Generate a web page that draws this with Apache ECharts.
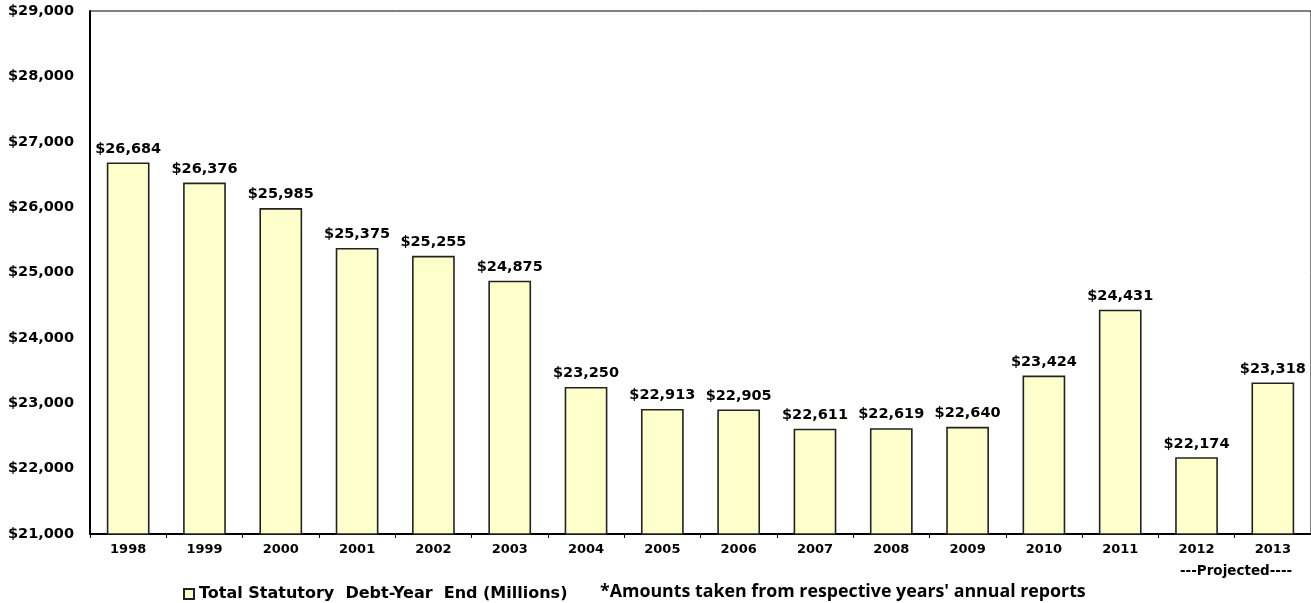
<!DOCTYPE html>
<html>
<head>
<meta charset="utf-8">
<script src="https://cdn.jsdelivr.net/npm/echarts@6/dist/echarts.min.js"></script>
<style>
  html, body { margin: 0; padding: 0; background: #fff; }
  #chart { width: 1311px; height: 603px; }
</style>
</head>
<body>
<div id="chart"></div>
<script>
// Fiscal years shown on the category axis
const years = ['1998', '1999', '2000', '2001', '2002', '2003', '2004', '2005',
               '2006', '2007', '2008', '2009', '2010', '2011', '2012', '2013'];
// Total statutory debt at year end, in millions of dollars
const debt = [26684, 26376, 25985, 25375, 25255, 24875, 23250, 22913,
              22905, 22611, 22619, 22640, 23424, 24431, 22174, 23318];
// Value axis range and step
const yMin = 21000;
const yMax = 29000;
const yStep = 1000;

const seriesName = 'Total Statutory  Debt-Year  End (Millions)';
const footNote = "*Amounts taken from respective years' annual reports";
const projectedNote = '---Projected----';

const boldFont = 'DejaVu Sans';
const money = v => '$' + Number(v).toLocaleString('en-US');

const chart = echarts.init(document.getElementById('chart'));
chart.setOption({
  animation: false,
  backgroundColor: '#ffffff',
  grid: {
    left: 90, top: 11, width: 1224, height: 523,
    show: true, borderColor: '#000', borderWidth: 1, backgroundColor: 'transparent'
  },
  legend: {
    data: [seriesName],
    left: 178, top: 581,
    itemWidth: 10, itemHeight: 10, itemGap: 6,
    icon: 'rect',
    textStyle: { fontFamily: boldFont, fontWeight: 'bold', fontSize: 16, color: '#000' }
  },
  xAxis: {
    type: 'category',
    data: years,
    axisLine: { lineStyle: { color: '#000', width: 2 } },
    axisTick: { show: true, length: 4, lineStyle: { color: '#000', width: 1 } },
    axisLabel: { fontFamily: boldFont, fontWeight: 'bold', fontSize: 13, color: '#000', margin: 9 }
  },
  yAxis: {
    type: 'value',
    min: yMin, max: yMax, interval: yStep,
    splitLine: { show: false },
    axisLine: { show: true, lineStyle: { color: '#000', width: 2 } },
    axisTick: { show: false },
    axisLabel: {
      fontFamily: boldFont, fontWeight: 'bold', fontSize: 14.5, color: '#000', margin: 16,
      formatter: money
    }
  },
  series: [{
    name: seriesName,
    type: 'bar',
    data: debt,
    barWidth: '56%',
    itemStyle: { color: '#FFFFCC', borderColor: '#222', borderWidth: 1.6 },
    label: {
      show: true, position: 'top', distance: 6,
      fontFamily: boldFont, fontWeight: 'bold', fontSize: 14.5, color: '#000',
      formatter: p => money(p.value)
    }
  }],
  graphic: [
    {
      type: 'text', left: 1180, top: 564,
      style: { text: projectedNote, fontFamily: boldFont, fontWeight: 'bold', fontSize: 13.5, fill: '#000' }
    },
    {
      type: 'text', left: 600, top: 583,
      style: { text: footNote, fontFamily: 'Open Sans', fontWeight: 'bold', fontSize: 17.8, fill: '#000' }
    }
  ]
});
</script>
</body>
</html>
